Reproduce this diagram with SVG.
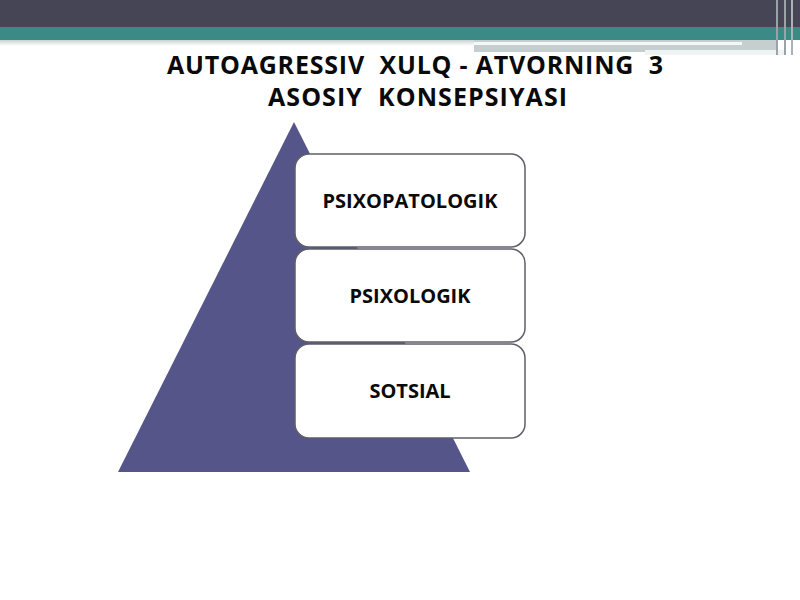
<svg xmlns="http://www.w3.org/2000/svg" width="800" height="600" viewBox="0 0 800 600">
<defs>
<linearGradient id="fade" x1="0" y1="0" x2="0" y2="1">
<stop offset="0" stop-color="#c9d3d2"/>
<stop offset="1" stop-color="#ffffff"/>
</linearGradient>
</defs>
<style>
.box{fill:#ffffff;stroke:#5f5f6a;stroke-width:1.5}
.lbl{font-family:"Open Sans","Noto Sans",sans-serif;font-weight:bold;font-size:20px;fill:#0a0a0a;text-anchor:middle}
.ttl{font-family:"Open Sans","Noto Sans",sans-serif;font-weight:bold;font-size:25px;fill:#0a0a0a;text-anchor:middle;white-space:pre}
</style>
<rect x="0" y="0" width="800" height="600" fill="#ffffff"/>
<g id="header">
<rect x="0" y="0" width="800" height="27" fill="#454556"/>
<rect x="0" y="27" width="800" height="13" fill="#3b8a86"/>
<rect x="0" y="40" width="474" height="6" fill="url(#fade)"/>
<rect x="474" y="40" width="304" height="12" fill="#c6cfcf"/>
<rect x="474" y="42" width="268" height="3" fill="#f4f8f8"/>
<rect x="645" y="50" width="141" height="5" fill="#eef4f4"/>
<rect x="776" y="0" width="2" height="55" fill="#9aa4a8"/>
<rect x="784" y="0" width="2" height="55" fill="#9aa4a8"/>
<rect x="791" y="0" width="2" height="55" fill="#aab2b6"/>
</g>
<g id="title">
<text class="ttl" x="415" y="74" xml:space="preserve" textLength="496" lengthAdjust="spacing">AUTOAGRESSIV  XULQ - ATVORNING  3</text>
<text class="ttl" x="417.5" y="106" xml:space="preserve" textLength="299" lengthAdjust="spacing">ASOSIY  KONSEPSIYASI</text>
</g>
<g id="pyramid">
<polygon points="294,122 118,472 470,472" fill="#55558a"/>
</g>
<g id="connectors"></g>
<g id="node-psixopatologik">
<rect class="box" x="295" y="154" width="230" height="93" rx="14"/>
<text class="lbl" x="410" y="208">PSIXOPATOLOGIK</text>
</g>
<g id="node-psixologik">
<rect class="box" x="295" y="249" width="230" height="93" rx="14"/>
<text class="lbl" x="410" y="303">PSIXOLOGIK</text>
</g>
<g id="node-sotsial">
<rect class="box" x="295" y="344" width="230" height="94" rx="14"/>
<text class="lbl" x="410" y="398">SOTSIAL</text>
</g>
</svg>
